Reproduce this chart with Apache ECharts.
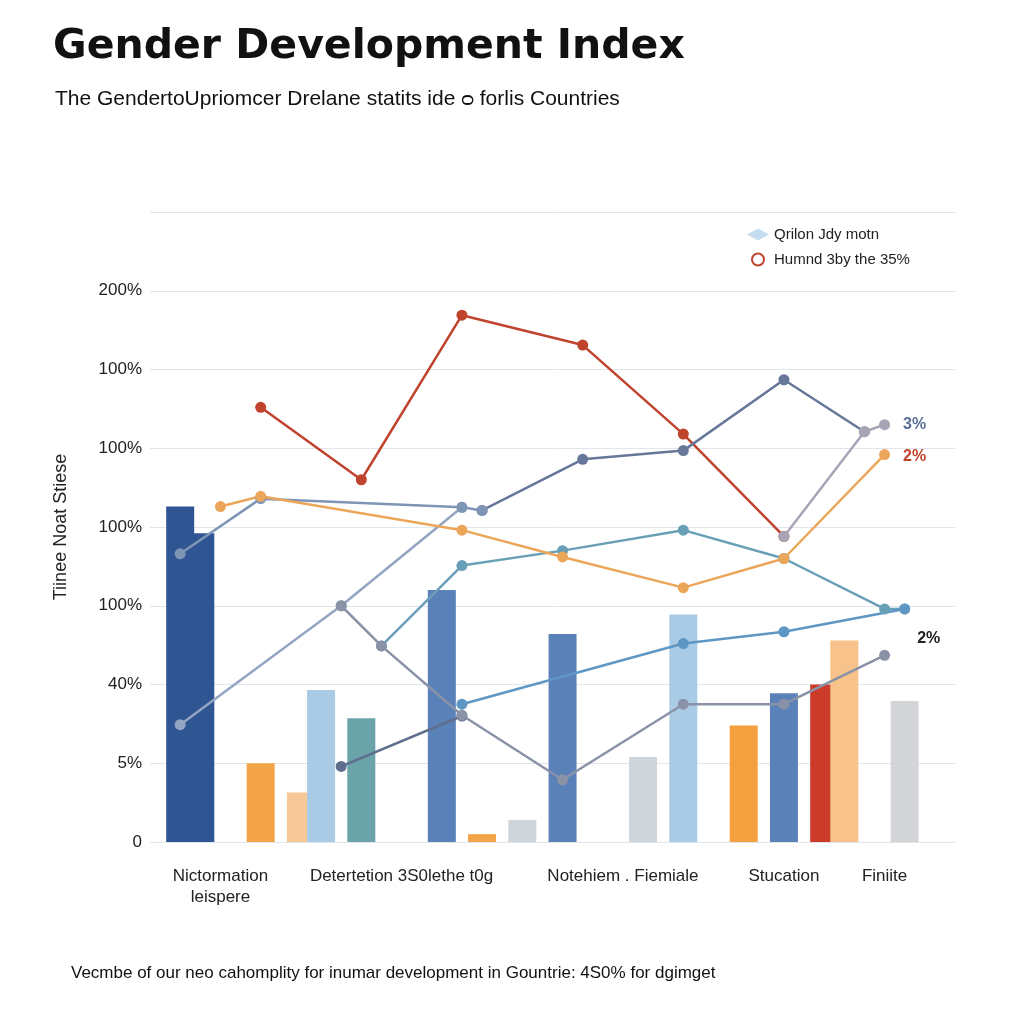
<!DOCTYPE html>
<html lang="en">
<head>
    <meta charset="UTF-8">
    <title>Gender Development Index</title>
    <script src="https://cdn.jsdelivr.net/npm/echarts@6.0.0/dist/echarts.min.js"></script>
    <style>body{margin:0;background:#fff;}</style>
</head>
<body>
    <div id="main" style="width:1024px;height:1024px;"></div>
    <script type="text/javascript">
        // 40 narrow slots along x; only a few carry a label
        const slotCount = 40;
        const xLabels = {3: 'Nictormation\nleispere', 12: 'Detertetion 3S0lethe t0g', 23: 'Notehiem . Fiemiale', 31: 'Stucation', 36: 'Finiite'};
        const yTickLabels = ['0', '5%', '40%', '100%', '100%', '100%', '100%', '200%', ''];

        // bars: slot, value, colour
        const barSlots  = [1, 2, 5, 7, 8, 10, 14, 16, 18, 20, 24, 26, 29, 31, 33, 34, 37];
        const barValues = [4.26, 3.92, 1.0, 0.63, 1.93, 1.57, 3.2, 0.1, 0.28, 2.64, 1.08, 2.89, 1.48, 1.89, 2.0, 2.56, 1.79];
        const barColors = ['#2f5592', '#2f5592', '#f4a448', '#f7c797', '#a9cbe6', '#6aa3a8', '#5b82b8', '#f4a448',
                           '#d0d5dc', '#5b82b8', '#d0d5dc', '#a9cbe6', '#f4a03f', '#5b82b8', '#cc3a2a', '#f7c38a', '#d3d5d8'];

        // lines: pairs of [slot, value]
        const redLine    = [[5, 5.52], [10, 4.6], [15, 6.69], [21, 6.31], [26, 5.18], [31, 3.88]];
        const slateShort = [[9, 0.96], [15, 1.6]];
        const slateLine  = [[16, 4.21], [21, 4.86], [26, 4.97], [31, 5.87], [35, 5.21]];
        const steelDiag  = [[1, 1.49], [9, 3.0], [15, 4.25]];
        const steelLine  = [[1, 3.66], [5, 4.36], [15, 4.25], [16, 4.21]];
        const lightBlue  = [[11, 2.49], [15, 3.51], [20, 3.7], [26, 3.96], [31, 3.6], [36, 2.96], [37, 2.96]];
        const midBlue    = [[15, 1.75], [26, 2.52], [31, 2.67], [37, 2.96]];
        const orangeLine = [[3, 4.26], [5, 4.39], [15, 3.96], [20, 3.62], [26, 3.23], [31, 3.6], [36, 4.92]];
        const greyLine   = [[9, 3.0], [11, 2.49], [15, 1.61], [20, 0.79], [26, 1.75], [31, 1.75], [36, 2.37]];
        const mauveLine  = [[31, 3.88], [35, 5.21], [36, 5.3]];

        const categories = [];
        for (let i = 0; i < slotCount; i++) categories.push(xLabels[i] || '');

        const barData = new Array(slotCount).fill(null);
        barSlots.forEach((s, k) => {
            barData[s] = {value: barValues[k], itemStyle: {color: barColors[k]}};
        });

        function lineSeries(name, pts, color, end) {
            const data = new Array(slotCount).fill(null);
            pts.forEach((p, k) => {
                data[p[0]] = {value: p[1]};
                if (end && k === pts.length - 1) {
                    data[p[0]].label = {show: true, position: 'right', formatter: end.text,
                        color: end.color, fontSize: 16, fontWeight: 'bold', offset: end.offset};
                }
            });
            return {
                name: name, type: 'line', data: data, connectNulls: true,
                symbol: 'circle', symbolSize: 11,
                lineStyle: {color: color, width: 2.5},
                itemStyle: {color: color}
            };
        }

        let myChart = echarts.init(document.getElementById('main'));
        myChart.setOption({
            backgroundColor: '#fff',
            animation: false,
            textStyle: {fontFamily: 'Liberation Sans, Arial, sans-serif'},
            title: [
                {text: 'Gender Development Index', left: 48, top: 22,
                 textStyle: {fontSize: 41, fontWeight: 900, color: '#111', fontFamily: 'DejaVu Sans'}},
                {text: 'The GendertoUpriomcer Drelane statits ide ᴑ forlis Countries', left: 50, top: 84,
                 textStyle: {fontSize: 21, fontWeight: 'normal', color: '#111'}},
                {text: 'Vecmbe of our neo cahomplity for inumar development in Gountrie: 4S0% for dgimget', left: 66, top: 960,
                 textStyle: {fontSize: 17, fontWeight: 'normal', color: '#111'}}
            ],
            legend: {
                orient: 'vertical', left: 742, top: 222, itemGap: 10,
                itemWidth: 22, itemHeight: 12,
                textStyle: {fontSize: 15, color: '#222'},
                data: [
                    {name: 'Qrilon Jdy motn', icon: 'diamond', itemStyle: {color: '#c5dbef'}},
                    {name: 'Humnd 3by the 35%', icon: 'emptyCircle'}
                ]
            },
            grid: {left: 150, right: 69, top: 212, bottom: 182},
            xAxis: {
                type: 'category', data: categories,
                axisLine: {show: false}, axisTick: {show: false},
                axisLabel: {interval: 0, fontSize: 17, color: '#222', margin: 24, lineHeight: 21}
            },
            yAxis: {
                type: 'value', min: 0, max: 8, interval: 1,
                name: 'Tiinee Noat Stiese', nameLocation: 'middle', nameGap: 80,
                nameTextStyle: {fontSize: 18, color: '#222'},
                axisLine: {show: false}, axisTick: {show: false},
                axisLabel: {fontSize: 17, color: '#222', formatter: v => yTickLabels[v]},
                splitLine: {lineStyle: {color: '#e2e5ea'}}
            },
            series: [
                {name: 'Qrilon Jdy motn', type: 'bar', data: barData, barWidth: 28,
                 itemStyle: {color: '#c5dbef'}},
                lineSeries('Humnd 3by the 35%', redLine, '#c0432e'),
                lineSeries('slate1', slateShort, '#5f6d8f'),
                lineSeries('slate2', slateLine, '#66779a'),
                lineSeries('steel1', steelDiag, '#93a5c2'),
                lineSeries('steel2', steelLine, '#7f95b6'),
                lineSeries('light', lightBlue, '#6a9fb8', {text: '2%', color: '#222', offset: [2, 30]}),
                lineSeries('mid', midBlue, '#5f97c4'),
                lineSeries('orange', orangeLine, '#eba65a', {text: '2%', color: '#c0432e', offset: [8, 2]}),
                lineSeries('grey', greyLine, '#8a92a8'),
                lineSeries('mauve', mauveLine, '#a8a4b6', {text: '3%', color: '#5a6f98', offset: [8, 0]})
            ]
        });
    </script>
</body>
</html>
